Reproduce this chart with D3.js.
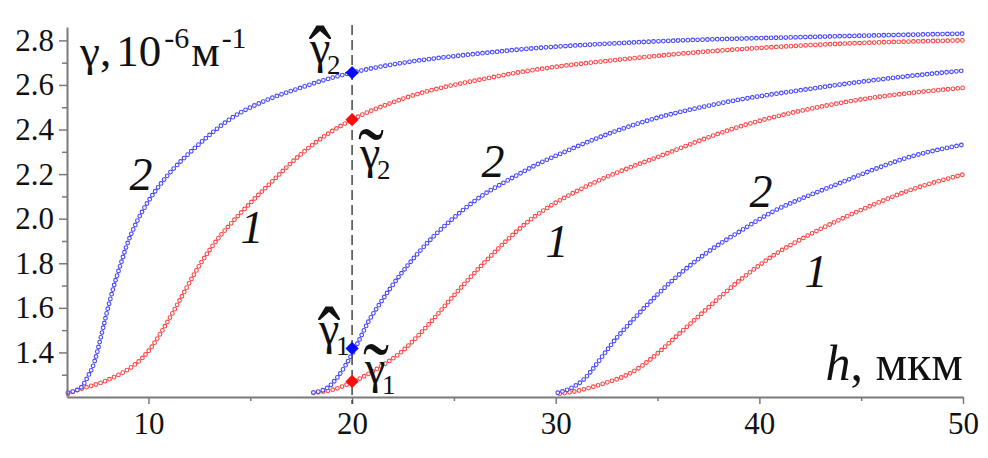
<!DOCTYPE html>
<html><head><meta charset="utf-8">
<script src="https://cdn.jsdelivr.net/npm/d3@7"></script>
<style>body{margin:0;background:#fff}svg{display:block}</style>
</head><body><svg id="c" width="988" height="458"></svg>
<script>
// ---- axis ticks ----
const xTicks = [10, 20, 30, 40, 50];
const xMinorTicks = [15, 25, 35, 45];
const yTicks = [1.4, 1.6, 1.8, 2.0, 2.2, 2.4, 2.6, 2.8];
const yMinorTicks = [1.3, 1.5, 1.7, 1.9, 2.1, 2.3, 2.5, 2.7];

// ---- series (h, мкм  ->  γ, 10^-6 м^-1) ----
const hBlue1 = [6.05, 6.66, 6.9, 7.07, 7.24, 7.48, 7.64, 7.8, 8.0, 8.3, 8.63, 8.95, 9.45, 9.94, 10.59, 11.24, 11.73, 12.55, 14.19, 15.83, 17.46, 18.93, 20, 27.2, 34.6, 42.3, 50];
const gBlue1 = [1.22, 1.24, 1.27, 1.30, 1.33, 1.40, 1.46, 1.52, 1.595, 1.697, 1.794, 1.884, 1.99, 2.07, 2.155, 2.225, 2.27, 2.34, 2.458, 2.533, 2.587, 2.63, 2.655, 2.75, 2.794, 2.815, 2.83];
const hRed1 = [6.05, 6.18, 6.82, 7.64, 8.46, 8.9, 9.28, 9.7, 10.1, 10.59, 11.08, 11.6, 12.5, 13.5, 14.17, 15.0, 15.83, 17.5, 18.9, 20, 22.37, 27.2, 34.6, 42.8, 50];
const gRed1 = [1.215, 1.22, 1.24, 1.263, 1.296, 1.318, 1.342, 1.375, 1.418, 1.485, 1.56, 1.645, 1.79, 1.92, 1.99, 2.07, 2.145, 2.29, 2.386, 2.444, 2.534, 2.64, 2.727, 2.78, 2.80];
const hBlue2 = [18.1, 18.77, 19.26, 19.75, 20.24, 20.81, 21.3, 22.37, 23.19, 24.0, 24.82, 25.64, 26.46, 27.28, 28.1, 28.9, 30.2, 32.0, 34.15, 38.2, 42.3, 46.4, 50];
const gBlue2 = [1.22, 1.24, 1.286, 1.353, 1.435, 1.54, 1.61, 1.749, 1.84, 1.92, 1.99, 2.053, 2.108, 2.153, 2.195, 2.235, 2.29, 2.36, 2.43, 2.52, 2.58, 2.63, 2.664];
const hRed2 = [18.1, 19.1, 19.9, 20.73, 21.55, 22.37, 23.19, 24.0, 24.66, 25.64, 26.46, 27.28, 28.1, 28.9, 29.7, 30.55, 32.2, 33.8, 34.64, 39.06, 43.96, 50];
const gRed2 = [1.219, 1.234, 1.262, 1.30, 1.345, 1.398, 1.47, 1.55, 1.62, 1.72, 1.80, 1.875, 1.945, 2.005, 2.055, 2.10, 2.175, 2.235, 2.264, 2.414, 2.519, 2.587];
const hBlue3 = [30.1, 30.88, 31.37, 31.86, 32.35, 33.0, 33.66, 34.3, 35.78, 37.42, 39.06, 40.69, 42.33, 43.96, 45.6, 47.24, 50];
const gBlue3 = [1.219, 1.246, 1.278, 1.33, 1.39, 1.466, 1.533, 1.595, 1.727, 1.847, 1.944, 2.033, 2.10, 2.16, 2.22, 2.273, 2.332];
const hRed3 = [30.2, 30.55, 32.2, 33.84, 34.64, 35.78, 36.93, 39.06, 40.69, 42.33, 43.96, 45.6, 47.24, 50];
const gRed3 = [1.215, 1.219, 1.256, 1.316, 1.368, 1.46, 1.555, 1.725, 1.835, 1.922, 1.996, 2.063, 2.123, 2.198];

// highlighted points at h = 20
const markH = [20, 20, 20, 20];
const markG = [2.655, 2.444, 1.418, 1.27];
const markKind = ["blue", "red", "blue", "red"];
const markAccent = ["ˆ", "˜", "ˆ", "˜"];
const markSub = ["2", "2", "1", "1"];
const cutH = 20;

// curve number labels
const curveLabelText = ["2", "1", "2", "1", "2", "1"];
const curveLabelH = [9.63, 15.08, 26.92, 30.06, 40.08, 42.78];
const curveLabelG = [2.129, 1.891, 2.187, 1.828, 2.052, 1.693];

const colors = { blue: "#4646ff", red: "#ff4646" };
const markColors = { blue: "#0a0aff", red: "#ff0a0a" };
const series = [
  { h: hRed1, g: gRed1, kind: "red" },
  { h: hBlue1, g: gBlue1, kind: "blue" },
  { h: hRed2, g: gRed2, kind: "red" },
  { h: hBlue2, g: gBlue2, kind: "blue" },
  { h: hRed3, g: gRed3, kind: "red" },
  { h: hBlue3, g: gBlue3, kind: "blue" }
];

const svg = d3.select("#c");
const FONT = "'Liberation Serif','Times New Roman',serif";
const x = d3.scaleLinear().domain([6, 50]).range([67, 963]);
const y = d3.scaleLinear().domain([1.2, 2.86]).range([397, 27]);

// ---- curves (hollow circle markers) ----
const line = d3.line().x(d => x(d[0])).y(d => y(d[1])).curve(d3.curveMonotoneX);
const gC = svg.append("g");
series.forEach(s => {
  const pts = s.h.map((v, i) => [v, s.g[i]]);
  const d = line(pts);
  gC.append("path").attr("d", d).attr("fill", "none")
    .attr("stroke", colors[s.kind]).attr("stroke-width", 4.8)
    .attr("stroke-linecap", "round").attr("stroke-dasharray", "0 4.9");
  gC.append("path").attr("d", d).attr("fill", "none")
    .attr("stroke", "#fff").attr("stroke-width", 2.6)
    .attr("stroke-linecap", "round").attr("stroke-dasharray", "0 4.9");
});

// ---- axes ----
function styleAxis(g) {
  g.select(".domain").attr("stroke", "#7a7a7a").attr("stroke-width", 2);
  g.selectAll(".tick line").attr("stroke", "#7a7a7a").attr("stroke-width", 1.5);
  g.selectAll(".tick text").attr("font-family", FONT).attr("font-size", 31).attr("fill", "#111");
}
const xAx = svg.append("g").attr("transform", `translate(0,${y(1.2)})`)
  .call(d3.axisBottom(x).tickValues(xTicks).tickSize(7).tickSizeOuter(0).tickPadding(8).tickFormat(d3.format("d")));
styleAxis(xAx);
const xMin = svg.append("g").attr("transform", `translate(0,${y(1.2)})`)
  .call(d3.axisBottom(x).tickValues(xMinorTicks).tickSize(4).tickFormat(""));
xMin.select(".domain").remove();
styleAxis(xMin);
const yAx = svg.append("g").attr("transform", `translate(${x(6)},0)`)
  .call(d3.axisLeft(y).tickValues(yTicks).tickSize(8).tickSizeOuter(0).tickPadding(5).tickFormat(d3.format(".1f")));
styleAxis(yAx);
const yMin = svg.append("g").attr("transform", `translate(${x(6)},0)`)
  .call(d3.axisLeft(y).tickValues(yMinorTicks).tickSize(5).tickFormat(""));
yMin.select(".domain").remove();
styleAxis(yMin);

// ---- dashed cut line ----
svg.append("line")
  .attr("x1", x(cutH)).attr("x2", x(cutH))
  .attr("y1", y(2.86) - 2).attr("y2", y(1.2) + 7)
  .attr("stroke", "#444").attr("stroke-width", 1.5).attr("stroke-dasharray", "10 5");

// ---- diamonds ----
markH.forEach((hv, i) => {
  svg.append("path")
    .attr("d", d3.symbol().type(d3.symbolSquare).size(88)())
    .attr("transform", `translate(${x(hv)},${y(markG[i])}) rotate(45)`)
    .attr("fill", markColors[markKind[i]]);
});

// ---- γ labels at the diamonds ----
// offsets (px) of γ's left/baseline from the diamond
const lblDx = [-42, 8, -33, 13];
const lblDy = [-10, 48, -4, 2];
markH.forEach((hv, i) => {
  const px = x(hv) + lblDx[i], py = y(markG[i]) + lblDy[i];
  const g = svg.append("g").attr("font-family", FONT).attr("fill", "#111");
  g.append("text").attr("x", px).attr("y", py).attr("font-size", 46).text("γ");
  const isHat = markAccent[i] === "ˆ";
  g.append("text").attr("font-size", 46).attr("text-anchor", "middle")
    .attr("transform", isHat ? `translate(${px + 10},${py + 26}) scale(1.5,2.0)`
                             : `translate(${px + 11},${py + 17}) scale(1.7,1.8)`)
    .text(markAccent[i]);
  g.append("text").attr("x", px + 17).attr("y", py + 11).attr("font-size", 27).text(markSub[i]);
});

// ---- curve numbers ----
curveLabelText.forEach((t, i) => {
  svg.append("text").attr("x", x(curveLabelH[i])).attr("y", y(curveLabelG[i]))
    .attr("text-anchor", "middle").attr("font-family", FONT).attr("font-style", "italic")
    .attr("font-size", 46).attr("fill", "#111").text(t);
});

// ---- axis titles ----
const yt = svg.append("text").attr("x", 80).attr("y", 66)
  .attr("font-family", FONT).attr("font-size", 45).attr("fill", "#111");
yt.append("tspan").text("γ,");
yt.append("tspan").attr("dx", 5).text("10");
yt.append("tspan").attr("font-size", 30).attr("dx", 3).attr("dy", -18).text("-6");
yt.append("tspan").attr("dx", 2).attr("dy", 18).text("м");
yt.append("tspan").attr("font-size", 30).attr("dx", 2).attr("dy", -18).text("-1");

const xt = svg.append("text").attr("x", 963).attr("y", 380).attr("text-anchor", "end")
  .attr("font-family", FONT).attr("font-size", 50).attr("fill", "#111");
xt.append("tspan").attr("font-style", "italic").text("h");
xt.append("tspan").text(", мкм");
</script></body></html>
